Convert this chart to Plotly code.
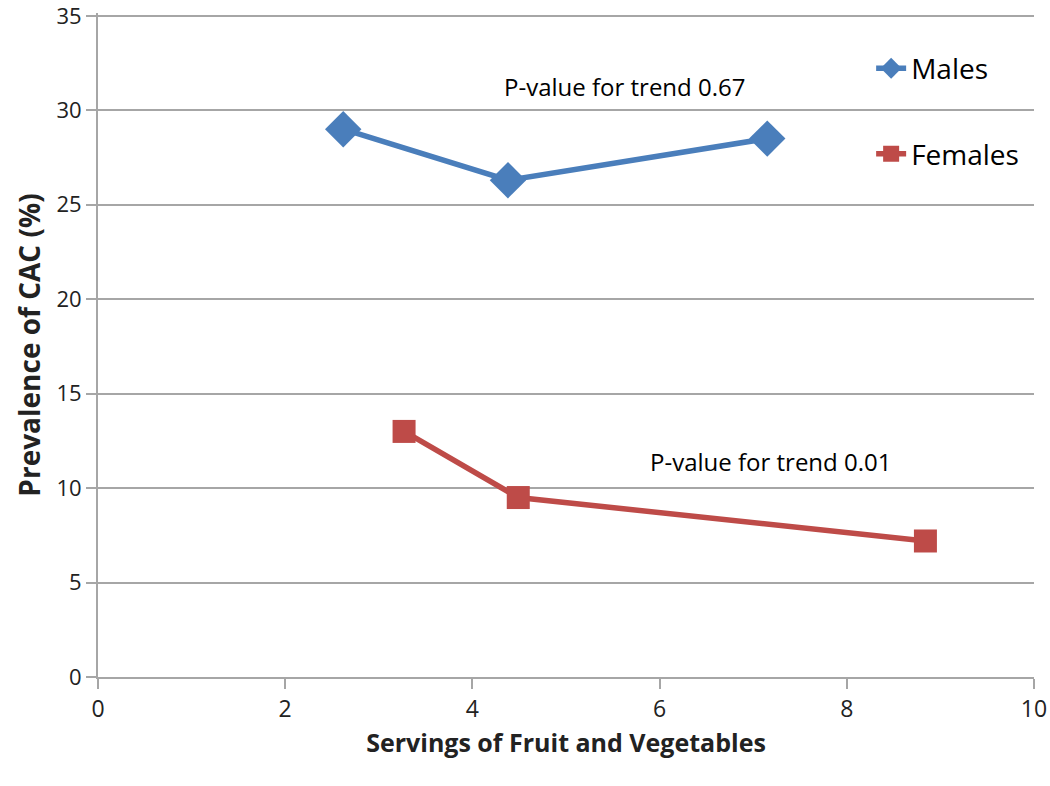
import plotly.graph_objects as go

males_x = [2.62, 4.38, 7.15]
males_y = [29.0, 26.3, 28.5]
females_x = [3.27, 4.49, 8.84]
females_y = [13.0, 9.5, 7.2]

x_ticks = [0, 2, 4, 6, 8, 10]
y_ticks = [0, 5, 10, 15, 20, 25, 30, 35]

BLUE = "#4A7EBB"
RED = "#BE4B48"
GRID = "#A6A6A6"

fig = go.Figure()
fig.add_trace(go.Scatter(x=males_x, y=males_y, mode="lines+markers", name="Males",
                         legendgroup="m",
                         line=dict(color=BLUE, width=5.5),
                         marker=dict(symbol="diamond", size=28, color=BLUE)))
fig.add_trace(go.Scatter(x=females_x, y=females_y, mode="lines+markers", name="Females",
                         legendgroup="f",
                         line=dict(color=RED, width=5.5),
                         marker=dict(symbol="square", size=23, color=RED)))

fig.add_annotation(x=5.63, y=31.25, text="P-value for trend 0.67", showarrow=False,
                   font=dict(family="Open Sans, Liberation Sans", size=24, color="black"))
fig.add_annotation(x=7.18, y=11.4, text="P-value for trend 0.01", showarrow=False,
                   font=dict(family="Open Sans, Liberation Sans", size=24, color="black"))

fig.update_layout(
    width=1050, height=786,
    paper_bgcolor="white", plot_bgcolor="white",
    margin=dict(l=98, r=16, t=13.2, b=109),
    font=dict(family="Open Sans, Liberation Sans", color="#222"),
    legend=dict(x=0.826, y=0.954, xanchor="left", yanchor="top",
                font=dict(family="Open Sans, Liberation Sans", size=28, color="black"),
                tracegroupgap=46, traceorder="grouped", bgcolor="rgba(0,0,0,0)"),
    xaxis=dict(range=[0, 10], tickvals=x_ticks, showgrid=False, zeroline=False, automargin=False,
               showline=True, linecolor=GRID, linewidth=2,
               ticks="outside", ticklen=10, tickcolor=GRID, tickwidth=1.5,
               tickfont=dict(family="Open Sans, Liberation Sans", size=23, color="#222"),
               title=dict(text="<b>Servings of Fruit and Vegetables</b>",
                          font=dict(family="Open Sans, Liberation Sans", size=25, color="#222"),
                          standoff=12)),
    yaxis=dict(range=[0, 35.15], tickvals=y_ticks, showgrid=True, gridcolor=GRID, gridwidth=2,
               zeroline=False, showline=True, linecolor=GRID, linewidth=2, automargin=False,
               ticks="outside", ticklen=10, tickcolor=GRID, tickwidth=1.5,
               ticklabeloverflow="allow",
               tickfont=dict(family="Open Sans, Liberation Sans", size=22, color="#222"),
               title=dict(text="<b>Prevalence of CAC (%)</b>",
                          font=dict(family="Open Sans, Liberation Sans", size=28, color="#222"),
                          standoff=8)),
)

fig.write_html("out.html", config={"displayModeBar": False},
               post_script="document.body.style.margin='0';")
